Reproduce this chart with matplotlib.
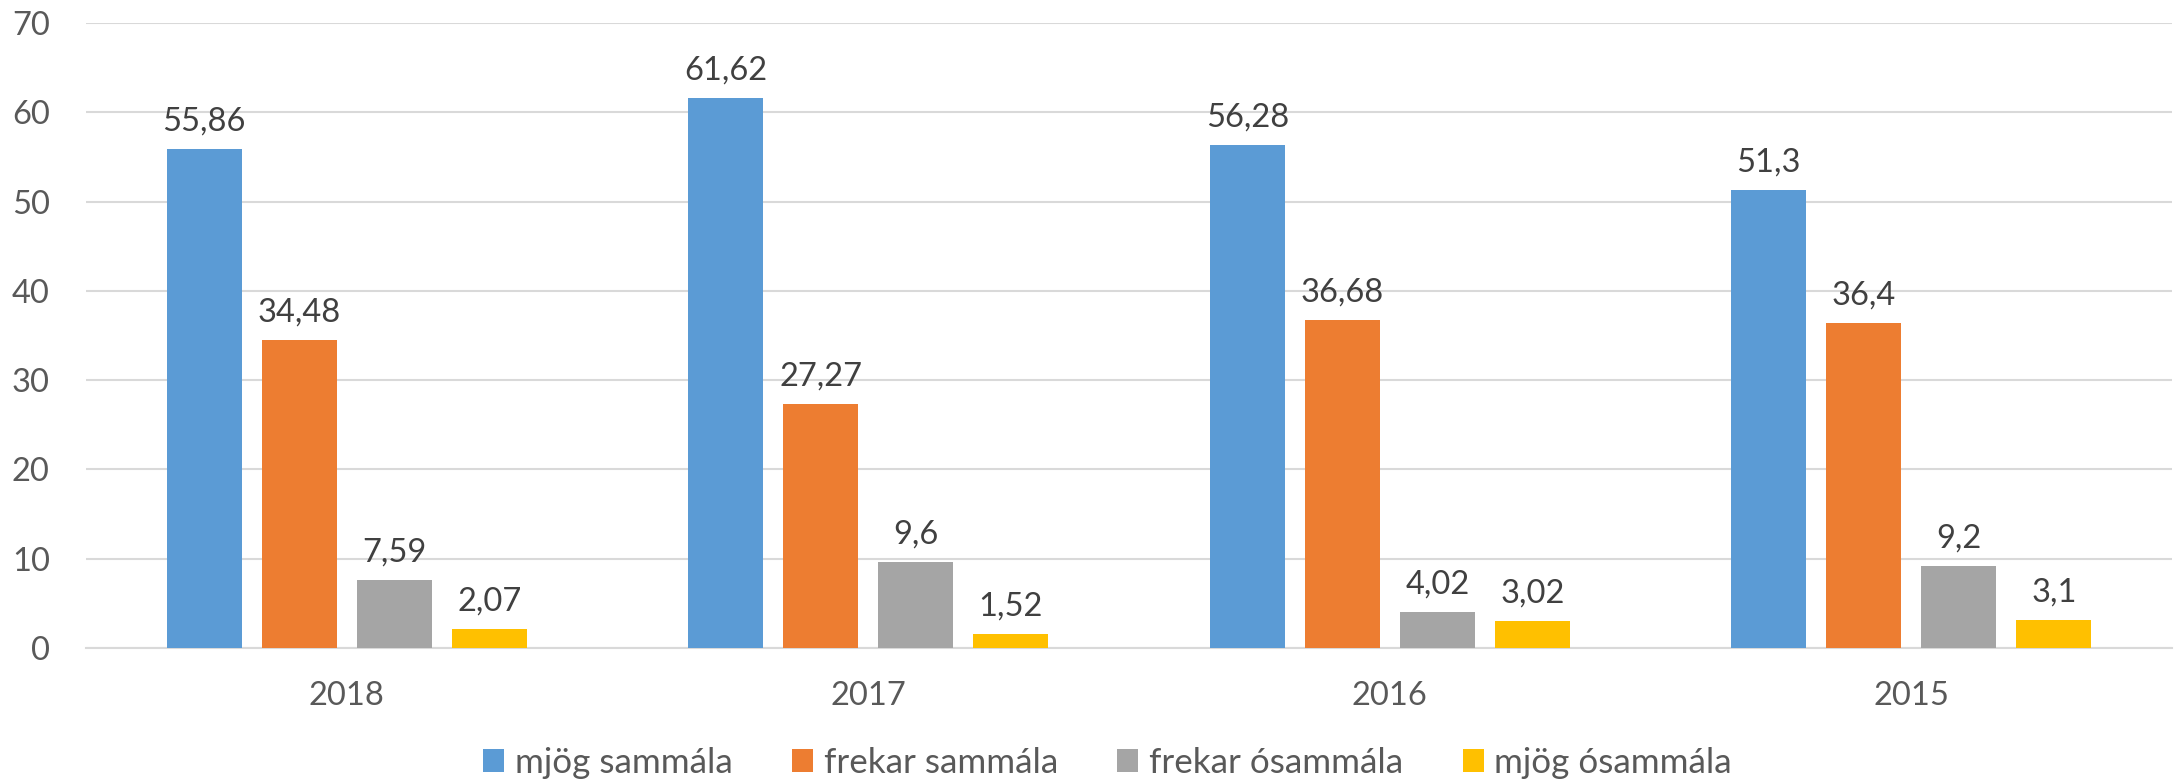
import matplotlib
matplotlib.use("Agg")
import matplotlib.pyplot as plt
import numpy as np

plt.rcParams['font.family'] = ['Lato', 'DejaVu Sans']

years = ["2018", "2017", "2016", "2015"]
series_names = ["mjög sammála", "frekar sammála", "frekar ósammála", "mjög ósammála"]
mjog_sammala = [55.86, 61.62, 56.28, 51.3]
frekar_sammala = [34.48, 27.27, 36.68, 36.4]
frekar_osammala = [7.59, 9.6, 4.02, 9.2]
mjog_osammala = [2.07, 1.52, 3.02, 3.1]
label_texts = [
    ["55,86", "61,62", "56,28", "51,3"],
    ["34,48", "27,27", "36,68", "36,4"],
    ["7,59", "9,6", "4,02", "9,2"],
    ["2,07", "1,52", "3,02", "3,1"],
]
colors = ["#5B9BD5", "#ED7D31", "#A5A5A5", "#FFC000"]

FS = 23.5

fig = plt.figure(figsize=(21.76, 7.84), dpi=100)
ax = fig.add_axes([0.0395, 0.1735, 0.9587, 0.7972])

data = [mjog_sammala, frekar_sammala, frekar_osammala, mjog_osammala]
x = np.arange(len(years))
bw = 0.1438
step = 0.1822
for i, (vals, c, name) in enumerate(zip(data, colors, series_names)):
    pos = x + (i - 1.5) * step
    bars = ax.bar(pos, vals, width=bw, color=c, label=name, zorder=3)
    for b, t in zip(bars, label_texts[i]):
        ax.annotate(t, (b.get_x() + b.get_width() / 2, b.get_height()),
                    xytext=(0, 9), textcoords="offset points",
                    ha="center", va="bottom", fontsize=FS, color="#404040")

ax.set_xlim(-0.5, 3.5)
ax.set_ylim(0, 70)
ax.set_yticks(range(0, 71, 10))
ax.set_xticks(x)
ax.set_xticklabels(years)
ax.yaxis.grid(True, color="#D9D9D9", linewidth=1.5, zorder=0)
for s in ["top", "right", "left"]:
    ax.spines[s].set_visible(False)
ax.spines["bottom"].set_color("#D9D9D9")
ax.spines["bottom"].set_linewidth(1.5)
ax.tick_params(axis="both", length=0, labelsize=FS, colors="#595959")
ax.tick_params(axis="x", pad=24)
ax.tick_params(axis="y", pad=26)

leg = fig.legend(loc="center", bbox_to_anchor=(0.509, 0.027), ncol=4, frameon=False,
                 fontsize=25.2, handlelength=0.6, handleheight=0.6, columnspacing=1.7,
                 handletextpad=0.3)
for t in leg.get_texts():
    t.set_color("#595959")

fig.savefig("out.png", dpi=100)
